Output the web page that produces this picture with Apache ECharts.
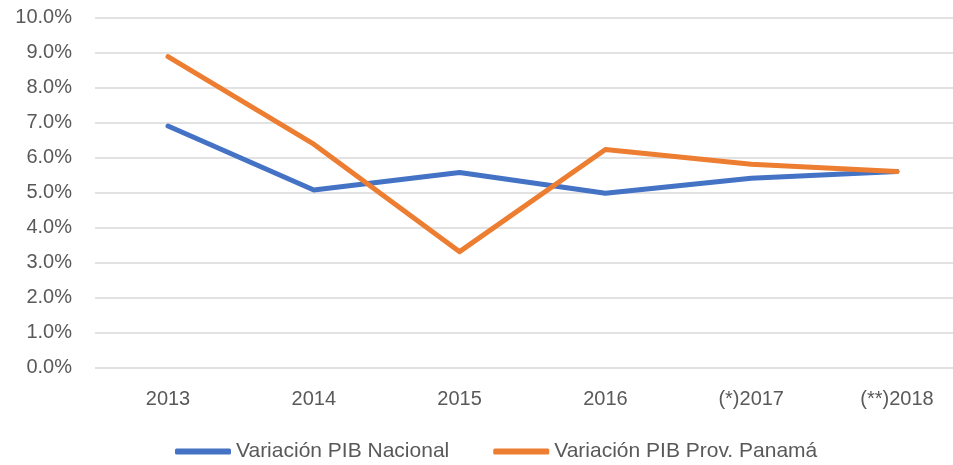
<!DOCTYPE html>
<html><head><meta charset="utf-8">
<script src="https://cdn.jsdelivr.net/npm/echarts@6/dist/echarts.min.js"></script>
<style>html,body{margin:0;padding:0;background:#fff}#c{width:953px;height:465px}</style>
</head><body><div id="c"></div>
<script>
const categories = ['2013','2014','2015','2016','(*)2017','(**)2018'];
const nacional = [6.9, 5.07, 5.57, 4.98, 5.41, 5.6];
const panama = [8.88, 6.38, 3.31, 6.23, 5.81, 5.6];
const seriesNames = ['Variación PIB Nacional','Variación PIB Prov. Panamá'];
const font = '"Liberation Sans", Arial, sans-serif';
const chart = echarts.init(document.getElementById('c'));
chart.setOption({
  animation:false,
  grid:[
    {left:95, right:0, top:17.5, height:350},
    {left:168, right:56, top:17.5, height:350}
  ],
  legend:{top:436, left:170, itemWidth:56, itemHeight:6, itemGap:44,
    icon:'roundRect',
    textStyle:{color:'#595959', fontSize:21, fontFamily:font},
    data:seriesNames},
  xAxis:[
    {gridIndex:0, type:'category', data:categories, show:false},
    {gridIndex:1, type:'category', data:categories, boundaryGap:false,
      axisLine:{show:false}, axisTick:{show:false}, splitLine:{show:false},
      axisLabel:{color:'#595959', fontSize:20, fontFamily:font, margin:22}}
  ],
  yAxis:[
    {gridIndex:0, type:'value', min:0, max:10, interval:1,
      axisLine:{show:false}, axisTick:{show:false},
      splitLine:{lineStyle:{color:'#D9D9D9', width:1.5}},
      axisLabel:{color:'#595959', fontSize:20, fontFamily:font, margin:23,
        formatter:v=>v.toFixed(1)+'%'}},
    {gridIndex:1, type:'value', min:0, max:10, interval:1, show:false,
      splitLine:{show:false}}
  ],
  series:[
    {name:seriesNames[0], type:'line', xAxisIndex:1, yAxisIndex:1, data:nacional, symbol:'none',
      lineStyle:{color:'#4472C4', width:5, cap:'round', join:'round'}, itemStyle:{color:'#4472C4'}},
    {name:seriesNames[1], type:'line', xAxisIndex:1, yAxisIndex:1, data:panama, symbol:'none',
      lineStyle:{color:'#ED7D31', width:5, cap:'round', join:'round'}, itemStyle:{color:'#ED7D31'}}
  ]
});
</script></body></html>
